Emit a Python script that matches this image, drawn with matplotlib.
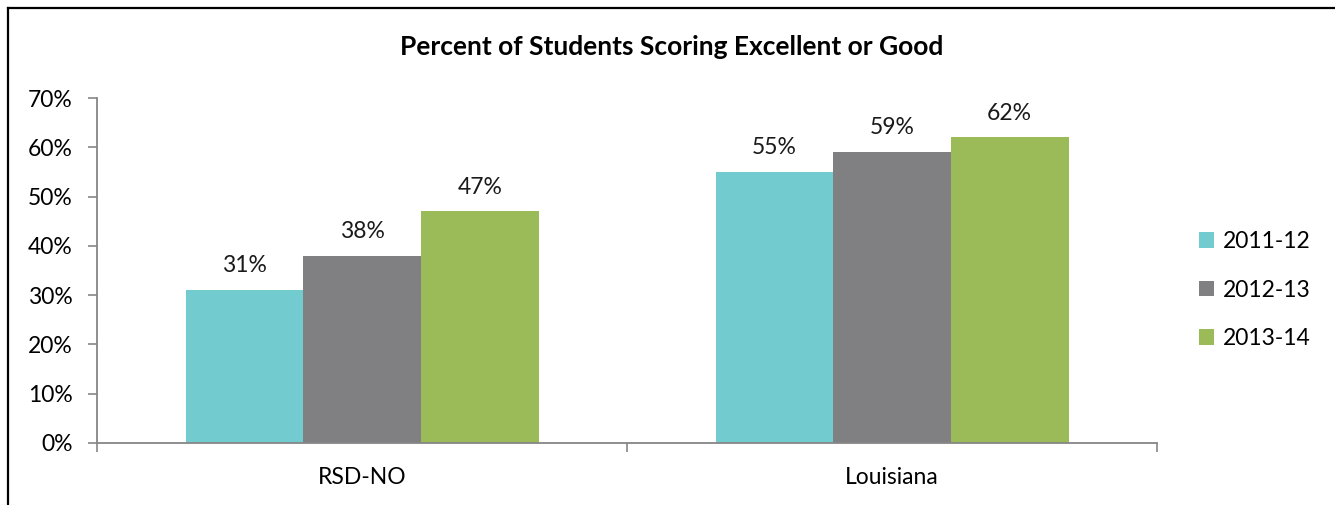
import numpy as np
import matplotlib.pyplot as plt
from matplotlib.lines import Line2D

plt.rcParams['font.family'] = ['Lato', 'DejaVu Sans']

# Data
categories = ['RSD-NO', 'Louisiana']
years = ['2011-12', '2012-13', '2013-14']
values = [
    [31, 55],  # 2011-12
    [38, 59],  # 2012-13
    [47, 62],  # 2013-14
]
colors = ['#72CBCE', '#808083', '#9BBB59']
yticks = [0, 10, 20, 30, 40, 50, 60, 70]

fig = plt.figure(figsize=(13.35, 5.05), dpi=100)
ax = fig.add_axes([0.0727, 0.1228, 0.794, 0.683])

x = np.arange(len(categories))
w = 0.222
for i, (yr, vals) in enumerate(zip(years, values)):
    bars = ax.bar(x + (i - 1) * w, vals, width=w, color=colors[i], label=yr)
    for b, v in zip(bars, vals):
        ax.text(b.get_x() + b.get_width() / 2, v + 2.8, f'{v}%',
                ha='center', va='bottom', fontsize=16.5, color='#1a1a1a')

ax.set_xlim(-0.5, 1.5)
ax.set_ylim(0, 70)
ax.set_yticks(yticks)
ax.set_yticklabels([f'{t}%' for t in yticks])
ax.set_xticks([-0.5, 0.5, 1.5])
ax.set_xticklabels([])
ax.set_xticks(x, minor=True)
ax.set_xticklabels(categories, minor=True)
ax.tick_params(axis='x', which='minor', length=0, pad=17, labelsize=16.5)
ax.tick_params(axis='x', which='major', length=6.5, width=1.2, color='#868686', direction='out')
ax.tick_params(axis='y', length=6.5, width=1.2, color='#868686', labelsize=16.5, pad=11)

for s in ['top', 'right']:
    ax.spines[s].set_visible(False)
for s in ['left', 'bottom']:
    ax.spines[s].set_color('#868686')
    ax.spines[s].set_linewidth(1.3)

fig.text(0.503, 0.906, 'Percent of Students Scoring Excellent or Good',
         ha='center', va='center', fontsize=19, fontweight='bold')

ax.legend(loc='center left', bbox_to_anchor=(1.02, 0.443), frameon=False,
          fontsize=16.5, handlelength=0.65, handleheight=0.65, handletextpad=0.4,
          labelspacing=1.2)

# outer frame (top and left edges)
fig.add_artist(Line2D([8 / 1335, 1], [1 - 8 / 505, 1 - 8 / 505],
                      transform=fig.transFigure, color='black', lw=1.6))
fig.add_artist(Line2D([8 / 1335, 8 / 1335], [0, 1 - 8 / 505],
                      transform=fig.transFigure, color='black', lw=1.6))

fig.savefig('out.png', dpi=100)
